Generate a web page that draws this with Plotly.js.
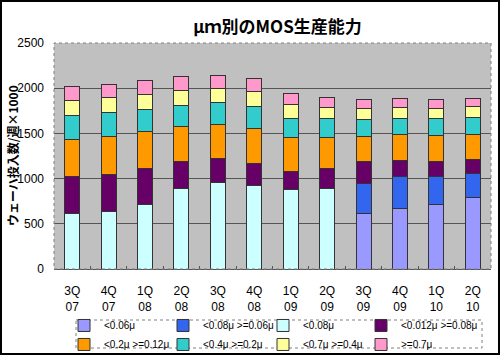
<!DOCTYPE html>
<html><head><meta charset="utf-8">
<script src="https://cdn.plot.ly/plotly-3.0.1.min.js"></script>
<style>html,body{margin:0;padding:0;background:#fff}#wrap{position:relative;width:500px;height:355px}#frame{position:absolute;left:0;top:0;width:500px;height:355px;box-sizing:border-box;border:2px solid #000;pointer-events:none}</style>
</head><body><div id="wrap"><div id="chart" style="width:500px;height:355px"></div><div id="frame"></div></div>
<script>
const quarters = ['3Q<br>07','4Q<br>07','1Q<br>08','2Q<br>08','3Q<br>08','4Q<br>08','1Q<br>09','2Q<br>09','3Q<br>09','4Q<br>09','1Q<br>10','2Q<br>10'];
const seriesNames = ['<0.06μ','<0.08μ >=0.06μ','<0.08μ','<0.012μ >=0.08μ','<0.2μ >=0.12μ','<0.4μ >=0.2μ','<0.7μ >=0.4μ','>=0.7μ'];
const yTitle = 'ウェーハ投入数/週×1000';
const lt006 = [0,0,0,0,0,0,0,0,619,664,715,793];
const lt008ge006 = [0,0,0,0,0,0,0,0,329,354,310,265];
const lt008 = [612,634,719,892,959,929,881,896,0,0,0,0];
const lt012ge008 = [409,409,391,292,261,236,196,217,236,180,162,151];
const lt02ge012 = [417,428,409,387,380,384,376,347,283,288,291,284];
const lt04ge02 = [258,255,243,236,240,247,217,207,192,181,189,188];
const lt07ge04 = [170,169,170,165,155,165,155,121,122,121,114,118];
const ge07 = [151,151,151,152,151,148,118,107,92,96,96,92];
const seriesValues = [lt006,lt008ge006,lt008,lt012ge008,lt02ge012,lt04ge02,lt07ge04,ge07];
const colors = ['#9999ff','#3366ee','#ccffff','#660066','#ff9900','#33cccc','#ffff99','#ff99cc'];

const legendIds = ['legend','legend2','legend3','legend4'];
const traces = seriesNames.map((n,i)=>({
  type:'bar', name:n, x:quarters, y:seriesValues[i],
  legend: legendIds[i % 4],
  marker:{color:colors[i], line:{color:'#333333', width:1}},
  hoverinfo:'skip'
}));

const jp = {family:'"Noto Sans CJK JP", "Liberation Sans", sans-serif', color:'#000'};
const lat = {family:'"Liberation Sans", Arial, sans-serif', color:'#000'};
const legendX = [0.128, 0.326, 0.526, 0.722];
function mkLegend(x){
  return {orientation:'v', xref:'container', yref:'container', x:x, xanchor:'left', y:0.124, yanchor:'top', traceorder:'normal',
    itemwidth:30, font:Object.assign({}, lat, {size:10}), bgcolor:'rgba(0,0,0,0)', borderwidth:0, tracegroupgap:0};
}
const layout = {
  width:500, height:355,
  margin:{l:54, r:9, t:43, b:86, autoexpand:false},
  paper_bgcolor:'#ffffff', plot_bgcolor:'#c0c0c0',
  barmode:'stack', bargap:0.59,
  showlegend:true,
  title:{text:'<b>μｍ別のMOS生産能力</b>', x:0.555, xanchor:'center', y:0.925, yanchor:'middle', font:Object.assign({}, jp, {size:17})},
  xaxis:{type:'category', tickfont:Object.assign({}, lat, {size:12}), ticks:'inside', ticklen:3, tickcolor:'#555', tickson:'boundaries',
    ticklabelstandoff:11,
    showline:true, linecolor:'#555', linewidth:1, mirror:false, showgrid:false, automargin:false},
  yaxis:{range:[0,2500], dtick:500, tickfont:Object.assign({}, lat, {size:12}), gridcolor:'#555', gridwidth:1,
    ticklabelstandoff:9,
    showline:false, zeroline:false, ticks:'', automargin:false},
  annotations:[{text:'<b>'+yTitle+'</b>', xref:'paper', yref:'paper', x:(12-54)/437, y:0.5, xanchor:'center', yanchor:'middle',
    textangle:-90, showarrow:false, font:Object.assign({}, jp, {size:12})}],
  legend:mkLegend(legendX[0]), legend2:mkLegend(legendX[1]), legend3:mkLegend(legendX[2]), legend4:mkLegend(legendX[3]),
  shapes:[
    {type:'rect', xref:'paper', yref:'paper', x0:0, x1:1, y0:0, y1:1, line:{color:'#808080', width:1, dash:'dot'}, layer:'above'},
    {type:'rect', xref:'paper', yref:'paper', x0:(76-54)/437, x1:(482-54)/437, y0:-0.2257, y1:-0.3496, fillcolor:'#ffffff', line:{color:'#808080', width:1, dash:'dot'}, layer:'above'}
  ]
};
Plotly.newPlot('chart', traces, layout, {displayModeBar:false, staticPlot:true});
</script></body></html>
